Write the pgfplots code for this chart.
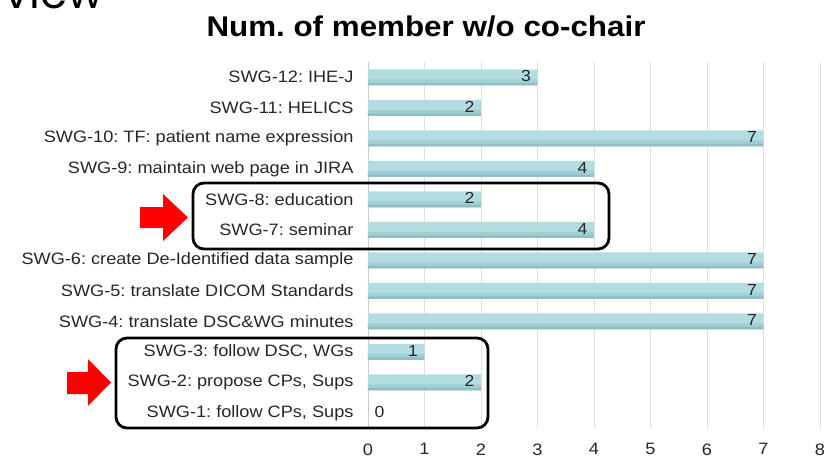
\documentclass[border=0pt]{standalone}
\usepackage{pgfplots}
\pgfplotsset{compat=1.18}
\usepackage{fontspec}
\setmainfont[FakeStretch=1.1]{Liberation Sans}
\newfontfamily\viewfont{Poppins}
\definecolor{barfill}{HTML}{B1DDE1}
\definecolor{barmid}{HTML}{A0CFD4}
\definecolor{barbot}{HTML}{8FBEC3}
\definecolor{lbl}{HTML}{262626}
\pgfplotstableread{
y v
12 3
11 2
10 7
9 4
8 2
7 4
6 7
5 7
4 7
3 1
2 2
}\mydata
\begin{document}
\frenchspacing
\begin{tikzpicture}[x=1pt,y=1pt]
\useasboundingbox (0,0) rectangle (825,459);
\clip (0,0) rectangle (825,459);
% partial slide heading
\node[anchor=base east, inner sep=0, font=\viewfont\fontsize{44}{44}\selectfont] at (104,450) {view};
% title
\node[font=\bfseries\fontsize{28.5}{32}\selectfont] at (426,433) {Num. of member w/o co-chair};
\begin{axis}[
  at={(368pt,31pt)}, anchor=south west,
  scale only axis, width=452pt, height=366pt,
  xmin=0, xmax=8, ymin=0.5, ymax=12.5,
  xtick={0,...,8},
  ytick={1,...,12},
  yticklabels={{SWG-1: follow CPs, Sups}, {SWG-2: propose CPs, Sups}, {SWG-3: follow DSC, WGs}, {SWG-4: translate DSC\&WG minutes}, {SWG-5: translate DICOM Standards}, {SWG-6: create De-Identified data sample}, {SWG-7: seminar}, {SWG-8: education}, {SWG-9: maintain web page in JIRA}, {SWG-10: TF: patient name expression}, {SWG-11: HELICS}, {SWG-12: IHE-J}},
  axis y line*=left, axis x line*=bottom,
  x axis line style={draw=none},
  y axis line style={draw=gray!40, line width=0.8pt},
  major tick length=0pt,
  xmajorgrids, grid style={gray!25, line width=0.8pt},
  tick label style={font=\fontsize{16.5}{18}\selectfont, text=lbl},
  xticklabel style={yshift=-12pt},
  yticklabel style={xshift=-11pt},
  /pgf/number format/assume math mode=true,
]
\addplot[xbar, bar width=16pt, bar shift=0pt, draw=none, fill=barfill,
  nodes near coords, every node near coord/.append style={anchor=east, text=lbl, font=\fontsize{16}{18}\selectfont, xshift=-3pt, yshift=1pt}]
  table[x=v, y=y] {\mydata};
\addplot[xbar, bar width=4pt, bar shift=-4pt, draw=none, fill=barmid, forget plot]
  table[x=v, y=y] {\mydata};
\addplot[xbar, bar width=2.5pt, bar shift=-6.75pt, draw=none, fill=barbot, forget plot]
  table[x=v, y=y] {\mydata};
\addplot[xbar, bar width=16pt, bar shift=0pt, draw=none, fill=none,
  nodes near coords, every node near coord/.append style={anchor=west, text=lbl, font=\fontsize{16}{18}\selectfont, xshift=3pt, yshift=1pt}]
  coordinates {(0,1)};
\end{axis}
% annotation boxes
\draw[line width=2.8pt, rounded corners=11pt] (193,{459-183}) rectangle (609,{459-249});
\draw[line width=2.8pt, rounded corners=11pt] (116,{459-338}) rectangle (488,{459-428});
% red arrows
\fill[red] (140,{459-207}) -- (163,{459-207}) -- (163,{459-194}) -- (188,{459-217.5}) -- (163,{459-241}) -- (163,{459-228}) -- (140,{459-228}) -- cycle;
\fill[red] (67,{459-372}) -- (88,{459-372}) -- (88,{459-359}) -- (111,{459-382.5}) -- (88,{459-406}) -- (88,{459-394}) -- (67,{459-394}) -- cycle;
\end{tikzpicture}
\end{document}
